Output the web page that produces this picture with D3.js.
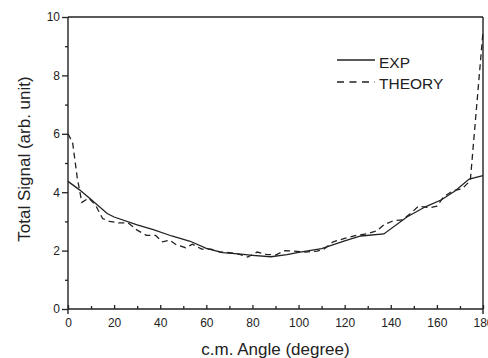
<!DOCTYPE html>
<html>
<head>
<meta charset="utf-8">
<script src="https://cdn.jsdelivr.net/npm/d3@7"></script>
<style>
  body { margin: 0; background: #fff; }
  text { font-family: "Liberation Sans", Arial, sans-serif; fill: #222; }
</style>
</head>
<body>
<div id="chart"></div>
<script>
// data
const expAngle = [0, 5, 10, 17, 20, 30, 37, 45, 53, 60, 67, 75, 80, 88, 95, 100, 110, 120, 127, 137, 147, 155, 162, 168, 174, 180];
const expSignal = [4.37, 4.08, 3.75, 3.27, 3.15, 2.88, 2.72, 2.5, 2.32, 2.08, 1.93, 1.88, 1.84, 1.79, 1.86, 1.94, 2.07, 2.33, 2.5, 2.57, 3.15, 3.5, 3.74, 4.05, 4.45, 4.57];

const theoryAngle = [0, 2, 4, 6, 9, 12, 15, 18, 22, 26, 30, 34, 38, 41, 44, 47, 51, 54, 58, 62, 66, 70, 74, 78, 82, 86, 90, 94, 98, 103, 108, 111, 115, 120, 125, 130, 134, 137, 141, 145, 149, 152, 157, 160, 163, 167, 171, 174.5, 180];
const theorySignal = [6.0, 5.7, 4.5, 3.65, 3.8, 3.55, 3.1, 3.0, 2.95, 2.95, 2.7, 2.52, 2.52, 2.3, 2.36, 2.2, 2.1, 2.22, 2.05, 2.05, 1.95, 1.93, 1.88, 1.78, 1.95, 1.87, 1.85, 2.0, 1.98, 1.95, 1.98, 2.05, 2.3, 2.42, 2.52, 2.58, 2.68, 2.88, 3.02, 3.05, 3.3, 3.52, 3.47, 3.52, 3.85, 4.05, 4.12, 4.4, 9.5];

const xTicks = [0, 20, 40, 60, 80, 100, 120, 140, 160, 180];
const yTicks = [0, 2, 4, 6, 8, 10];

const W = 488, H = 358;
const margin = { top: 17, right: 5, bottom: 49, left: 68 };
const width = W - margin.left - margin.right;
const height = H - margin.top - margin.bottom;

const svg = d3.select('#chart').append('svg')
  .attr('width', W)
  .attr('height', H);

const g = svg.append('g')
  .attr('transform', 'translate(' + margin.left + ',' + margin.top + ')');

const x = d3.scaleLinear().domain([0, 180]).range([0, width]);
const y = d3.scaleLinear().domain([0, 10]).range([height, 0]);

// x axis: ticks inward
const xAxis = d3.axisBottom(x).tickValues(xTicks).tickSizeInner(-4).tickSizeOuter(0).tickPadding(9);
const xMinor = d3.axisBottom(x).tickValues(d3.range(10, 180, 20)).tickSizeInner(-3).tickSizeOuter(0).tickFormat('');
// y axis: ticks outward
const yAxis = d3.axisLeft(y).tickValues(yTicks).tickSizeInner(6).tickSizeOuter(0).tickPadding(2);
const yMinor = d3.axisLeft(y).tickValues(d3.range(1, 10, 2)).tickSizeInner(3).tickSizeOuter(0).tickFormat('');

[xAxis, xMinor].forEach(a => {
  g.append('g').attr('class', 'x axis')
    .attr('transform', 'translate(0,' + height + ')')
    .call(a);
});
[yAxis, yMinor].forEach(a => {
  g.append('g').attr('class', 'y axis').call(a);
});

g.selectAll('.axis .domain').remove();
g.selectAll('.axis line').attr('stroke', '#222').attr('stroke-width', 1.3);
g.selectAll('.axis text').style('font-size', '12px').attr('fill', '#222');

// frame
const frame = g.append('g').attr('stroke', '#222').attr('stroke-width', 1.4).attr('fill', 'none');
frame.append('line').attr('x1', 0).attr('x2', width).attr('y1', 0).attr('y2', 0);
frame.append('line').attr('x1', 0).attr('x2', width).attr('y1', height).attr('y2', height);
frame.append('line').attr('x1', 0).attr('x2', 0).attr('y1', 0).attr('y2', height + 5);
frame.append('line').attr('x1', width).attr('x2', width).attr('y1', 0).attr('y2', height + 5);

// curves
const line = d3.line().x(d => x(d[0])).y(d => y(d[1]));

g.append('path')
  .datum(d3.zip(expAngle, expSignal))
  .attr('fill', 'none')
  .attr('stroke', '#222')
  .attr('stroke-width', 1.3)
  .attr('d', line);

g.append('path')
  .datum(d3.zip(theoryAngle, theorySignal))
  .attr('fill', 'none')
  .attr('stroke', '#222')
  .attr('stroke-width', 1.3)
  .attr('stroke-dasharray', '6,4')
  .attr('d', line);

// legend
const legend = svg.append('g').attr('transform', 'translate(337,60)');
legend.append('line').attr('x1', 0).attr('x2', 38).attr('y1', 0).attr('y2', 0)
  .attr('stroke', '#222').attr('stroke-width', 1.3);
legend.append('text').attr('x', 42).attr('y', 7.5).style('font-size', '15.5px').text('EXP');
legend.append('line').attr('x1', 0).attr('x2', 38).attr('y1', 22).attr('y2', 22)
  .attr('stroke', '#222').attr('stroke-width', 1.3).attr('stroke-dasharray', '7,5.5');
legend.append('text').attr('x', 42).attr('y', 28.5).style('font-size', '15.5px').text('THEORY');

// axis titles
svg.append('text')
  .attr('x', margin.left + width / 2)
  .attr('y', 355)
  .attr('text-anchor', 'middle')
  .style('font-size', '17px')
  .text('c.m. Angle (degree)');

svg.append('text')
  .attr('transform', 'translate(30,' + (159) + ') rotate(-90)')
  .attr('text-anchor', 'middle')
  .style('font-size', '17px')
  .text('Total Signal (arb. unit)');
</script>
</body>
</html>
